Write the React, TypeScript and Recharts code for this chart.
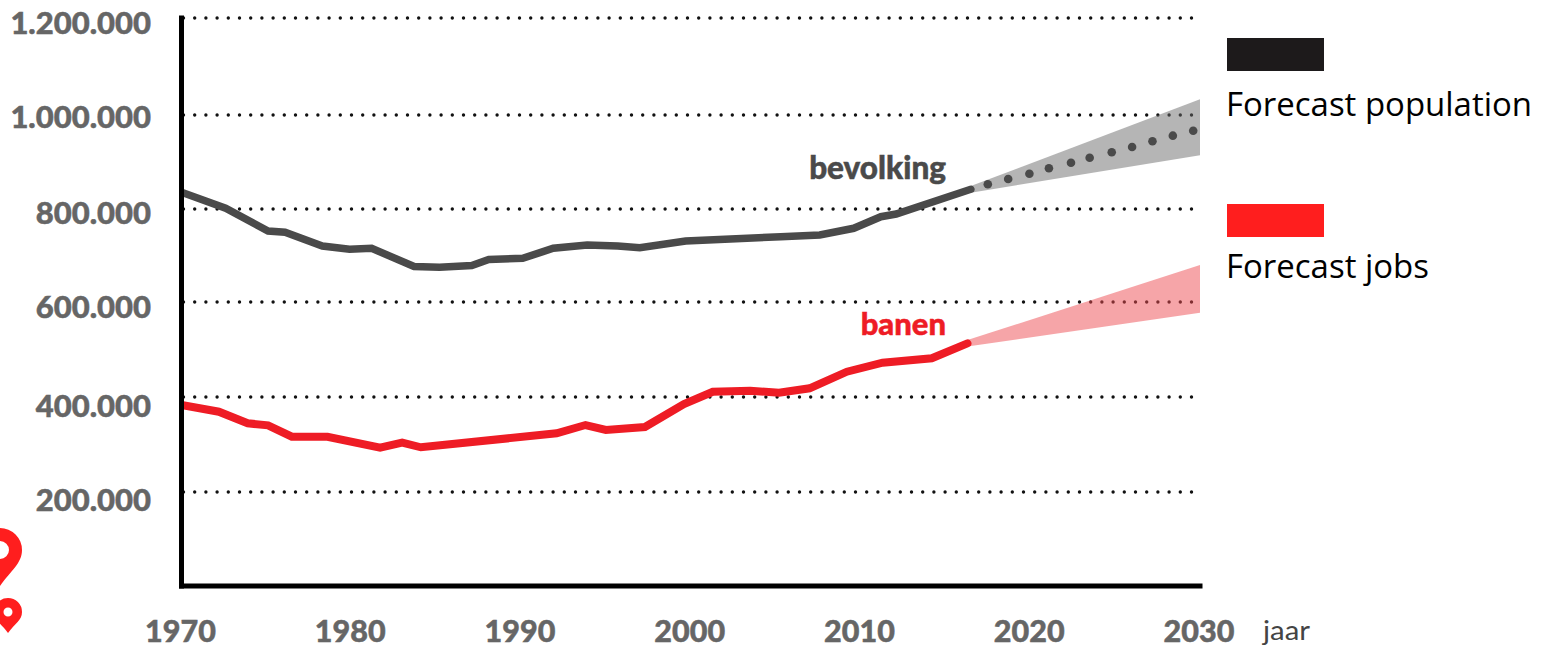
import {
  Area,
  CartesianGrid,
  ComposedChart,
  Line,
  XAxis,
  YAxis,
} from "recharts";

const populationYears = [1970, 1972.6, 1975.1, 1976.1, 1978.3, 1979.9, 1981.2, 1983.7, 1985.2, 1987.1, 1988.1, 1990.1, 1991.9, 1993.9, 1995.7, 1997, 1999.7, 2005.3, 2007.6, 2009.6, 2011.2, 2012.1, 2016.5];
const populationValues = [832000, 798000, 750000, 747300, 718300, 711300, 713500, 675000, 673300, 677100, 689800, 692300, 713500, 720400, 718300, 714700, 728900, 738000, 741500, 755700, 780200, 785900, 838100];

const jobsYears = [1970, 1972.2, 1973.9, 1975.1, 1976.5, 1978.6, 1981.7, 1983, 1984.1, 1992.1, 1993.8, 1995, 1997.3, 1999.6, 2001.3, 2003.5, 2005.2, 2007, 2009.2, 2011.3, 2014.2, 2016.3];
const jobsValues = [382400, 368200, 343700, 339500, 315400, 315400, 292200, 302700, 293000, 322600, 340100, 329600, 335900, 384500, 410500, 412600, 408400, 417700, 452800, 471800, 481100, 512700];

const forecastDotYears = [2017.5, 2018.7, 2019.95, 2021.1, 2022.4, 2023.5, 2024.8, 2026, 2027.2, 2028.4, 2029.6];
const forecastDotValues = [848700, 859900, 871000, 882500, 894300, 904900, 916300, 927500, 939500, 951400, 961900];

const populationBandYears = [2016.5, 2030];
const populationBandLow = [831000, 909900];
const populationBandHigh = [845000, 1028200];

const jobsBandYears = [2016.3, 2030];
const jobsBandLow = [506000, 577400];
const jobsBandHigh = [519500, 678200];

const yTicks = [200000, 400000, 600000, 800000, 1000000, 1200000];
const xTicks = [1970, 1980, 1990, 2000, 2010, 2020, 2030];
// the dotted lines in the source sit a little off the round values
const gridValues = [198600, 399300, 600000, 796500, 995100, 1200000];

const population = populationYears.map((year, i) => ({ year, value: populationValues[i] }));
const jobs = jobsYears.map((year, i) => ({ year, value: jobsValues[i] }));
const forecastDots = forecastDotYears.map((year, i) => ({ year, value: forecastDotValues[i] }));
const populationBand = populationBandYears.map((year, i) => ({ year, range: [populationBandLow[i], populationBandHigh[i]] }));
const jobsBand = jobsBandYears.map((year, i) => ({ year, range: [jobsBandLow[i], jobsBandHigh[i]] }));

const labelFont = "Lato, sans-serif";
const legendFont = "'Open Sans', sans-serif";

const formatDutch = (v: number) => v.toString().replace(/\B(?=(\d{3})+(?!\d))/g, ".");

const yLabelNudge: Record<number, number> = {
  200000: 8,
  400000: 8,
  600000: 4,
  800000: 5,
  1000000: 3,
  1200000: 4,
};

function YTick({ y, payload }: any) {
  return (
    <text
      x={151}
      y={y + yLabelNudge[payload.value]}
      textAnchor="end"
      dominantBaseline="central"
      fontFamily={labelFont}
      fontWeight={900}
      fontSize={31}
      fill="#666666"
      stroke="#666666"
      strokeWidth={0.5}
    >
      {formatDutch(payload.value)}
    </text>
  );
}

function XTick({ x, payload }: any) {
  return (
    <text
      x={x - 1}
      y={629.5}
      textAnchor="middle"
      dominantBaseline="central"
      fontFamily={labelFont}
      fontWeight={900}
      fontSize={30.5}
      fill="#666666"
      stroke="#666666"
      strokeWidth={0.5}
    >
      {payload.value}
    </text>
  );
}

function Pin({ cx, top, w, h, hole }: { cx: number; top: number; w: number; h: number; hole: number }) {
  const r = w / 2;
  const cy = top + r;
  return (
    <path
      fillRule="evenodd"
      fill="#ff1e1e"
      d={`M${cx} ${top + h} C${cx - r * 0.5} ${top + h - r * 0.7} ${cx - r} ${cy + r * 0.6} ${cx - r} ${cy}
          A${r} ${r} 0 0 1 ${cx + r} ${cy}
          C${cx + r} ${cy + r * 0.6} ${cx + r * 0.5} ${top + h - r * 0.7} ${cx} ${top + h} Z
          M${cx - hole} ${cy} A${hole} ${hole} 0 1 0 ${cx + hole} ${cy} A${hole} ${hole} 0 1 0 ${cx - hole} ${cy} Z`}
    />
  );
}

export default function App() {
  return (
    <div style={{ position: "absolute", left: 0, top: 0, width: 1550, height: 646, background: "#fff" }}>
      <ComposedChart width={1550} height={646} margin={{ top: 18, right: 350, bottom: 0, left: 0 }}>
        <CartesianGrid
          vertical={false}
          horizontalValues={gridValues}
          stroke="#111"
          strokeWidth={3.4}
          strokeLinecap="round"
          strokeDasharray="0 11.2"
          strokeDashoffset={-2}
        />
        <XAxis
          type="number"
          dataKey="year"
          domain={[1970, 2030]}
          ticks={xTicks}
          height={60}
          interval={0}
          allowDataOverflow
          tick={<XTick />}
          tickLine={false}
          axisLine={{ stroke: "#000", strokeWidth: 5, strokeLinecap: "square" }}
        />
        <YAxis
          type="number"
          domain={[0, 1200000]}
          ticks={yTicks}
          width={181.5}
          interval={0}
          tick={<YTick />}
          tickLine={false}
          axisLine={{ stroke: "#000", strokeWidth: 5, strokeLinecap: "square" }}
        />
        <Area data={populationBand} dataKey="range" type="linear" stroke="none" fill="#6b6b6b" fillOpacity={0.5} isAnimationActive={false} />
        <Area data={jobsBand} dataKey="range" type="linear" stroke="none" fill="#ed4b51" fillOpacity={0.5} isAnimationActive={false} />
        <Line data={population} dataKey="value" type="linear" stroke="#4a4a4a" strokeWidth={7.5} strokeLinecap="round" dot={false} isAnimationActive={false} />
        <Line data={jobs} dataKey="value" type="linear" stroke="#ee1c25" strokeWidth={8} strokeLinecap="round" dot={false} isAnimationActive={false} />
        <Line
          data={forecastDots}
          dataKey="value"
          type="linear"
          stroke="none"
          dot={{ r: 4.3, fill: "#4a4a4a", stroke: "none" }}
          isAnimationActive={false}
        />

        <text x={946} y={167} textAnchor="end" dominantBaseline="central" fontFamily={labelFont} fontWeight={900} fontSize={31.5} fill="#4a4a4a" stroke="#4a4a4a" strokeWidth={0.5}>
          bevolking
        </text>
        <text x={946} y={323} textAnchor="end" dominantBaseline="central" fontFamily={labelFont} fontWeight={900} fontSize={31} fill="#ee1c25" stroke="#ee1c25" strokeWidth={0.5}>
          banen
        </text>
        <text x={1263} y={629} dominantBaseline="central" fontFamily={labelFont} fontSize={27} fill="#444" textLength={47} lengthAdjust="spacingAndGlyphs">
          jaar
        </text>

        <rect x={1227} y={38} width={97} height={33} fill="#1d1a1b" />
        <text x={1226} y={103} dominantBaseline="central" fontFamily={legendFont} fontSize={32} fill="#000" textLength={306} lengthAdjust="spacingAndGlyphs">
          Forecast population
        </text>
        <rect x={1227} y={204} width={97} height={33} fill="#ff1e1e" />
        <text x={1226} y={265} dominantBaseline="central" fontFamily={legendFont} fontSize={32} fill="#000" textLength={203} lengthAdjust="spacingAndGlyphs">
          Forecast jobs
        </text>

        <Pin cx={0} top={528} w={44} h={58} hole={9} />
        <Pin cx={8} top={598} w={28} h={35} hole={4.5} />
      </ComposedChart>
    </div>
  );
}
